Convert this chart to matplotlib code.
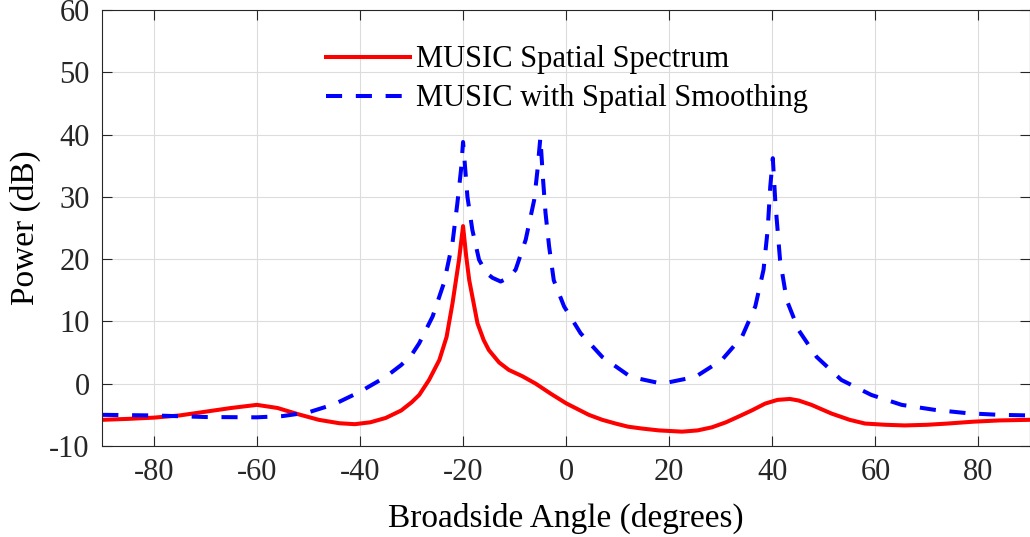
import matplotlib
matplotlib.use("Agg")
import matplotlib.pyplot as plt

plt.rcParams['font.family'] = ['Liberation Serif', 'DejaVu Serif']
plt.rcParams['axes.unicode_minus'] = False

# MUSIC spatial spectrum (red, solid)
angle_music = [-90, -85, -80, -75, -70, -65, -60, -56, -52, -48, -44, -41, -38, -35, -32,
               -30, -28.5, -26.6, -24.6, -23.2, -22.05, -20.8, -20, -19.4, -18.8, -17.2,
               -16, -15, -13, -11.1, -8.5, -5.9, -3, 0, 2.5, 4.4, 7, 9.6, 12, 14.7, 18,
               22.5, 25.5, 28.3, 31, 33.4, 36, 38.6, 41, 43.4, 45.1, 47.6, 51.5, 55, 58,
               62, 65.7, 70, 74, 79, 84, 90]
power_music = [-5.8, -5.65, -5.45, -5.1, -4.5, -3.9, -3.4, -3.9, -4.9, -5.8, -6.35, -6.5, -6.2,
               -5.5, -4.3, -3.0, -1.8, 0.6, 3.8, 7.5, 12.9, 19.8, 25.3, 20.5, 16.6, 9.7,
               7.0, 5.4, 3.4, 2.2, 1.2, 0.0, -1.6, -3.15, -4.2, -5.0, -5.8, -6.4, -6.9, -7.2, -7.5,
               -7.7, -7.5, -7.0, -6.2, -5.3, -4.3, -3.2, -2.6, -2.45, -2.7, -3.4, -4.8, -5.8, -6.4,
               -6.6, -6.7, -6.6, -6.4, -6.1, -5.9, -5.8]

# MUSIC with spatial smoothing (blue, dashed)
angle_ss = [-90, -80, -70, -60, -55, -50, -45, -40, -35, -32, -30, -28.5, -25.9, -23.7,
            -22.05, -21.1, -20.4, -20, -19.15, -18.2, -16.9, -15.5, -14.3, -12.7, -11.2,
            -9.8, -7.85, -6.2, -5.6, -5.0, -4.5, -4.0, -3.3, -2.4, -0.4, 2.8, 7.0, 12.5,
            18.6, 25.1, 30.2, 34.1, 36.7, 38.3, 39.1, 39.6, 40.1, 40.6, 41.5, 42.8, 45.1,
            48.6, 53.4, 59.2, 65.1, 71.5, 78, 84, 90]
power_ss = [-5.0, -5.1, -5.35, -5.4, -5.2, -4.6, -3.3, -1.3, 1.1, 3.0, 4.6, 6.5, 10.8, 16.2,
            22.6, 29.0, 34.3, 38.8, 30.0, 24.7, 19.9, 17.8, 17.0, 16.4, 17.0,
            18.3, 23.1, 29.5, 34.0, 39.5, 33.0, 27.4, 22.0, 16.6, 12.4, 8.1, 4.3, 1.1,
            0.0, 1.1, 3.8, 7.5, 12.4, 18.3, 24.7, 31.6, 36.2, 29.0, 19.9, 13.4, 8.6,
            4.3, 0.6, -1.8, -3.4, -4.2, -4.75, -5.0, -5.1]

xticks = [-80, -60, -40, -20, 0, 20, 40, 60, 80]
yticks = [-10, 0, 10, 20, 30, 40, 50, 60]

fig = plt.figure(figsize=(10.3, 5.37), dpi=100)
ax = fig.add_axes([0.0993, 0.1695, 0.9007, 0.812])

ax.plot(angle_music, power_music, color='red', lw=2.9, label='MUSIC Spatial Spectrum',
        solid_joinstyle='round')
ax.plot(angle_ss, power_ss, color='blue', lw=2.9, dashes=(4.0, 3.4),
        label='MUSIC with Spatial Smoothing')

ax.set_xlim(-90, 90)
ax.set_ylim(-10, 60)
ax.set_xticks(xticks)
ax.set_yticks(yticks)
ax.grid(True, color='#dcdcdc', lw=0.8)
ax.set_axisbelow(True)
ax.tick_params(direction='in', length=7, width=0.8, top=True, right=True,
               labelsize=22, colors='#262626', labelcolor='#262626', pad=9)
for s in ax.spines.values():
    s.set_color('#262626')
    s.set_linewidth(0.8)

ax.set_xlabel('Broadside Angle (degrees)', fontsize=24, labelpad=11)
ax.set_ylabel('Power (dB)', fontsize=24, labelpad=6)

ax.legend(loc='upper left', bbox_to_anchor=(0.241, 0.919), frameon=False, fontsize=22,
          handlelength=2.75, handletextpad=0.2, labelspacing=0.33, borderpad=0,
          borderaxespad=0)

fig.savefig('out.png', dpi=100)
